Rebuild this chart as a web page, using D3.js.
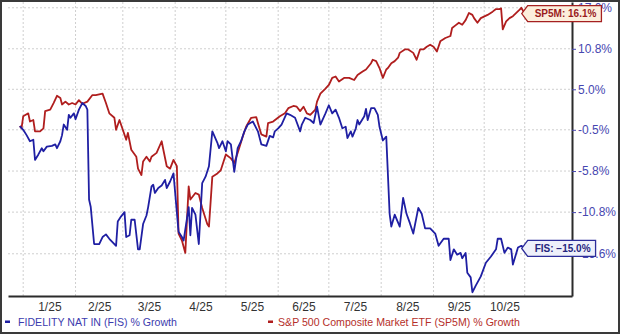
<!DOCTYPE html>
<html>
<head>
  <meta charset="utf-8">
  <script src="https://d3js.org/d3.v7.min.js"></script>
  <style>
    body {
      margin: 0;
      background: #fff;
      font-family: "Liberation Sans", Arial, sans-serif;
    }
    .grid line {
      stroke: #cfcfcf;
      stroke-width: 1;
      stroke-dasharray: 2,2;
    }
    .tag text {
      font-size: 10px;
      font-weight: bold;
    }
  </style>
</head>
<body>
<script>
  // % growth since the start: [day of 2025 (0 = Jan 1), pct]
  var fisPoints = [
    [-2.2,0.0],[0.2,-0.5],[2.2,-1.2],[4.2,-2.0],[6.1,-1.8],[7.7,-4.4],[9.1,-3.7],[11.1,-2.9],
    [12.5,-3.3],[14.1,-2.7],[17.0,-2.6],[19.6,-2.4],[20.0,-2.9],[22.0,-2.0],[23.6,-1.2],[24.9,0.2],
    [26.3,-0.5],[27.5,1.5],[28.9,1.1],[30.3,1.7],[31.9,0.9],[33.8,2.2],[35.8,3.1],[37.4,2.7],
    [38.8,2.2],[39.3,-9.3],[40.8,-10.2],[42.7,-14.5],[45.7,-14.5],[47.7,-13.7],[49.7,-13.4],
    [51.7,-13.9],[55.2,-14.7],[56.6,-11.9],[58.6,-11.3],[60.5,-10.8],[61.5,-13.7],[63.1,-13.5],
    [64.5,-11.7],[66.5,-11.7],[68.4,-15.1],[69.4,-15.1],[71.0,-12.2],[73.0,-11.2],[74.4,-10.2],
    [76.4,-7.7],[77.7,-7.5],[78.8,-8.5],[80.3,-7.9],[82.9,-7.6],[84.3,-6.9],[85.3,-7.9],[87.2,-7.1],
    [89.6,-6.1],[92.2,-13.1],[94.2,-13.7],[95.5,-14.1],[98.1,-10.2],[99.1,-13.5],[100.7,-10.3],
    [102.7,-11.1],[104.6,-14.5],[106.1,-7.3],[108.0,-6.5],[110.0,-5.2],[112.0,-0.7],[113.4,-1.2],
    [115.0,-2.2],[116.9,-2.9],[118.9,-2.0],[120.5,-3.3],[121.8,-2.0],[123.9,-2.4],[125.8,-5.9],
    [127.8,-2.9],[129.8,-2.0],[131.7,-0.7],[133.7,0.2],[136.7,0.6],[139.7,-0.7],[141.7,-2.4],
    [144.6,-2.6],[146.6,-1.3],[148.6,-1.5],[149.6,-0.7],[151.5,-0.3],[153.5,0.2],[156.1,1.7],
    [158.5,1.5],[161.4,1.1],[164.0,-0.7],[165.4,0.2],[167.4,1.1],[170.3,0.8],[172.3,0.4],
    [174.7,2.6],[176.7,0.2],[179.2,1.7],[181.8,2.8],[183.2,1.7],[185.2,2.2],[187.7,1.1],
    [189.7,-0.3],[191.1,-0.1],[192.1,-1.6],[194.1,-0.7],[195.7,-1.4],[197.0,-0.3],[198.1,0.8],
    [199.6,0.2],[202.0,1.3],[203.6,2.3],[204.9,0.8],[206.4,2.4],[208.9,2.4],[210.9,1.5],
    [211.9,-0.1],[213.5,-1.9],[215.9,-1.4],[217.8,-11.0],[218.8,-12.5],[220.8,-11.1],[223.3,-12.5],
    [225.4,-9.1],[227.3,-11.0],[229.3,-12.1],[231.6,-13.3],[234.0,-10.3],[236.0,-11.0],[238.0,-12.7],
    [241.6,-12.7],[244.5,-13.3],[246.5,-14.7],[249.5,-13.9],[252.4,-13.9],[253.8,-16.3],[255.0,-15.1],
    [257.0,-15.7],[259.0,-15.5],[260.4,-16.1],[262.3,-15.5],[263.3,-17.7],[265.7,-18.2],[266.9,-19.8],
    [268.9,-19.1],[271.2,-18.1],[274.2,-16.6],[277.2,-15.9],[280.1,-15.1],[281.5,-13.9],[283.1,-13.9],
    [285.1,-15.5],[287.4,-14.9],[289.0,-15.1],[290.6,-16.8],[293.0,-14.9],[295.0,-14.7],[297.3,-15.0]
  ];

  var spPoints = [
    [-2.2,0.0],[-0.2,-0.3],[0.6,1.3],[3.1,1.7],[4.6,0.6],[6.1,0.8],[7.7,-0.7],[10.1,-0.7],
    [12.0,-0.3],[13.7,2.0],[16.0,2.2],[18.0,3.1],[20.0,4.1],[22.0,3.8],[23.9,2.9],[25.9,3.3],
    [27.5,2.9],[29.5,3.1],[31.5,2.9],[33.8,3.5],[35.8,3.0],[38.8,3.3],[41.4,4.2],[43.7,4.2],
    [47.7,4.4],[49.7,3.1],[51.6,1.7],[54.6,1.1],[55.6,-0.5],[57.6,0.8],[59.5,-0.5],[61.1,-1.8],
    [62.5,-0.9],[64.5,-3.1],[67.1,-4.0],[68.4,-5.5],[70.0,-6.3],[71.4,-4.6],[73.4,-4.0],[75.0,-4.6],
    [76.4,-4.0],[79.4,-3.5],[82.3,-2.0],[83.7,-3.1],[85.3,-5.2],[87.2,-5.5],[89.6,-4.4],[91.2,-5.2],
    [92.2,-13.3],[94.2,-14.1],[96.7,-15.5],[98.1,-7.7],[99.5,-9.3],[102.1,-8.5],[104.0,-8.7],
    [106.1,-10.3],[109.0,-12.2],[110.6,-12.5],[112.9,-6.5],[115.0,-6.1],[117.9,-5.7],[120.9,-3.7],
    [123.9,-4.2],[125.8,-4.8],[127.8,-3.5],[130.7,-1.4],[132.8,-0.1],[135.7,1.1],[138.3,1.2],
    [139.7,0.4],[141.7,-1.1],[144.2,-1.4],[145.6,0.4],[148.6,0.6],[152.5,1.3],[155.5,1.7],
    [157.5,2.4],[160.4,2.7],[162.4,2.6],[164.0,2.0],[166.0,2.6],[168.0,1.7],[170.3,1.5],[173.3,2.2],
    [174.7,3.3],[176.7,4.4],[179.2,5.1],[181.2,5.6],[183.2,6.6],[185.2,6.8],[187.1,6.1],[190.1,6.6],
    [193.1,6.6],[196.0,6.3],[198.1,7.0],[201.0,7.5],[203.6,7.8],[206.0,8.7],[207.9,9.2],[209.9,9.0],
    [211.9,8.0],[213.5,6.6],[215.4,7.8],[216.8,8.0],[218.8,8.7],[220.8,9.0],[222.1,9.5],[223.8,10.2],
    [226.1,10.7],[228.7,10.7],[231.6,10.2],[233.7,9.2],[235.2,10.7],[237.6,10.7],[239.6,11.1],
    [241.6,11.4],[243.5,11.1],[245.5,10.4],[247.5,11.9],[250.5,12.4],[253.0,12.7],[254.4,13.9],
    [256.4,14.3],[258.4,14.7],[260.4,14.4],[262.3,15.1],[264.9,16.2],[266.3,15.9],[267.3,15.4],
    [269.3,14.7],[271.2,15.4],[275.2,15.9],[278.2,16.4],[280.1,16.8],[282.1,16.8],[283.1,16.9],
    [284.7,13.7],[286.7,14.9],[288.0,15.4],[290.0,15.7],[292.0,16.2],[294.0,16.7],[295.4,17.0],
    [297.3,16.1]
  ];

  var yTickValues = [17.0, 10.8, 5.0, -0.5, -5.8, -10.8, -15.6];
  var yTickLabels = ["17.0%", "10.8%", "5.0%", "-0.5%", "-5.8%", "-10.8%", "-15.6%"];
  var xTickLabels = ["1/25", "2/25", "3/25", "4/25", "5/25", "6/25", "7/25", "8/25", "9/25", "10/25"];
  var legendNames = ["FIDELITY NAT IN (FIS) % Growth", "S&P 500 Composite Market ETF (SP5M) % Growth"];
  var tagNames = ["FIS", "SP5M"];

  var W = 620, H = 334;
  var plotLeft = 8, plotRight = 572, plotTop = 2, plotBottom = 296;
  var blue = "#1f1fa3", red = "#b01e1e";

  function toDate(day) {
    return new Date(2025, 0, 1 + day);
  }

  var svg = d3.select("body").append("svg")
    .attr("width", W)
    .attr("height", H);

  var x = d3.scaleTime()
    .domain([toDate(-9), toDate(325)])
    .range([plotLeft, plotRight]);

  // growth axis is logarithmic in (1 + pct)
  var yLog = d3.scaleLog()
    .domain([1 - 0.202, 1 + 0.179])
    .range([plotBottom, plotTop]);
  function y(pct) { return yLog(1 + pct / 100); }

  var lastDay = fisPoints[fisPoints.length - 1][0];
  var monthStarts = d3.timeMonth.range(toDate(0), toDate(304));
  var vLines = monthStarts.concat([toDate(lastDay)]);

  // grid
  var grid = svg.append("g").attr("class", "grid");
  grid.selectAll(".v").data(vLines).enter().append("line")
    .attr("x1", function(d){ return x(d); })
    .attr("x2", function(d){ return x(d); })
    .attr("y1", plotTop).attr("y2", plotBottom);
  grid.selectAll(".h").data(yTickValues).enter().append("line")
    .attr("x1", plotLeft).attr("x2", plotRight)
    .attr("y1", function(d){ return y(d); })
    .attr("y2", function(d){ return y(d); });

  // lines
  var line = d3.line()
    .x(function(d){ return x(toDate(d[0])); })
    .y(function(d){ return y(d[1]); });

  svg.append("path").datum(spPoints)
    .attr("d", line)
    .attr("fill", "none")
    .attr("stroke", red)
    .attr("stroke-width", 1.8)
    .attr("stroke-linejoin", "round");

  svg.append("path").datum(fisPoints)
    .attr("d", line)
    .attr("fill", "none")
    .attr("stroke", blue)
    .attr("stroke-width", 1.8)
    .attr("stroke-linejoin", "round");

  // x axis, labels centred in each month
  var labelDates = monthStarts.map(function(d, i){
    var next = vLines[i + 1];
    return new Date((d.getTime() + next.getTime()) / 2);
  });
  var xAxis = d3.axisBottom(x)
    .tickValues(labelDates)
    .tickSize(0)
    .tickSizeOuter(0)
    .tickPadding(6)
    .tickFormat(function(d, i){ return xTickLabels[i]; });
  var gx = svg.append("g")
    .attr("transform", "translate(0," + plotBottom + ")")
    .call(xAxis);
  gx.select(".domain").attr("stroke", "#2b2b2b").attr("stroke-width", 2);
  gx.selectAll("text")
    .attr("fill", "#333")
    .style("font-size", "12px")
    .style("font-family", "'Liberation Sans', Arial, sans-serif");

  // y axis on the right
  var yAxis = d3.axisRight(yLog)
    .tickValues(yTickValues.map(function(v){ return 1 + v / 100; }))
    .tickSize(4)
    .tickSizeOuter(0)
    .tickPadding(2)
    .tickFormat(function(d, i){ return yTickLabels[i]; });
  var gy = svg.append("g")
    .attr("transform", "translate(" + plotRight + ",0)")
    .call(yAxis);
  gy.select(".domain").attr("stroke", "#2b2b2b").attr("stroke-width", 2);
  gy.selectAll(".tick line").attr("stroke", "#4646b0");
  gy.selectAll("text")
    .attr("fill", "#4646b0")
    .style("font-size", "12px")
    .style("font-family", "'Liberation Sans', Arial, sans-serif");

  // end-value tags
  var tags = [
    { name: tagNames[1], pts: spPoints, stroke: "#a52020", fill: "#fcefdc", text: "#9a1c1c" },
    { name: tagNames[0], pts: fisPoints, stroke: "#2d2d9a", fill: "#eef0fa", text: "#25257e" }
  ];
  tags.forEach(function(t){
    var last = t.pts[t.pts.length - 1];
    var tx = x(toDate(last[0])) - 3, ty = y(last[1]);
    var g = svg.append("g").attr("class", "tag");
    var poly = g.append("path");
    var label = g.append("text")
      .attr("x", tx + 13)
      .attr("y", ty + 3.5)
      .attr("fill", t.text)
      .text(t.name + ": " + d3.format(".1f")(last[1]) + "%");
    var w = label.node().getComputedTextLength() + 18;
    var h = 8;
    poly.attr("d", "M" + tx + "," + ty +
        "L" + (tx + 6) + "," + (ty - h) +
        "L" + (tx + w) + "," + (ty - h) +
        "L" + (tx + w) + "," + (ty + h) +
        "L" + (tx + 6) + "," + (ty + h) + "Z")
      .attr("fill", t.fill)
      .attr("stroke", t.stroke)
      .attr("stroke-width", 1.3);
  });

  // legend
  var legend = svg.append("g").style("font-size", "10.6px");
  [[5, 18, blue, "#3c3cae"], [268, 278, red, "#b5302a"]].forEach(function(l, i){
    legend.append("rect")
      .attr("x", l[0]).attr("y", 320.5)
      .attr("width", 5).attr("height", 2.5)
      .attr("fill", l[2]);
    legend.append("text")
      .attr("x", l[1]).attr("y", 326)
      .attr("fill", l[3])
      .text(legendNames[i]);
  });

  // outer frame
  svg.append("rect")
    .attr("x", 1).attr("y", 1)
    .attr("width", W - 2).attr("height", H - 2)
    .attr("fill", "none")
    .attr("stroke", "#3a3a3a")
    .attr("stroke-width", 2);
</script>
</body>
</html>
